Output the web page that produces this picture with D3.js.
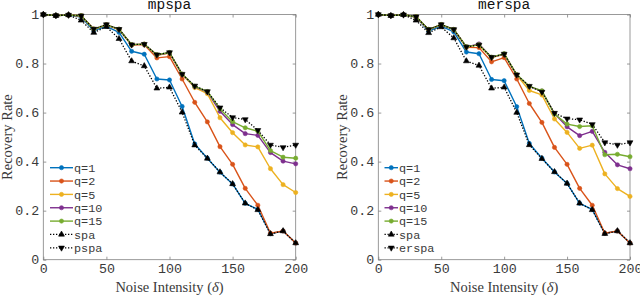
<!DOCTYPE html>
<html><head><meta charset="utf-8">
<script src="https://cdn.jsdelivr.net/npm/d3@7"></script>
<style>
html,body{margin:0;padding:0;background:#fff;}
svg{display:block;}
</style>
</head><body>
<svg id="chart" width="640" height="296"></svg>
<script>
// ---- data ----
const noise = [0,10,20,30,40,50,60,70,80,90,100,110,120,130,140,150,160,170,180,190,200];
const xTicks = [0,50,100,150,200];
const yTicks = [0,0.2,0.4,0.6,0.8,1];
const titles = ["mpspa","merspa"];
const legendLeft = ["q=1","q=2","q=5","q=10","q=15","spa","pspa"];
const legendRight = ["q=1","q=2","q=5","q=10","q=15","spa","erspa"];

// left panel (mpspa)
const q1L  = [1,0.996,0.998,0.990,0.934,0.952,0.927,0.850,0.838,0.737,0.733,0.625,0.472,0.414,0.357,0.309,0.230,0.205,0.106,0.117,0.068];
const q2L  = [1,0.996,0.998,0.994,0.940,0.957,0.938,0.875,0.877,0.823,0.828,0.737,0.642,0.562,0.461,0.389,0.291,0.222,0.108,0.117,0.068];
const q5L  = [1,0.996,0.998,0.995,0.940,0.958,0.940,0.877,0.879,0.834,0.843,0.755,0.702,0.677,0.579,0.518,0.468,0.460,0.371,0.306,0.274];
const q10L = [1,0.996,0.998,0.995,0.940,0.958,0.940,0.877,0.879,0.835,0.844,0.756,0.706,0.684,0.605,0.551,0.514,0.507,0.437,0.402,0.391];
const q15L = [1,0.996,0.998,0.995,0.940,0.958,0.940,0.877,0.879,0.836,0.845,0.757,0.707,0.686,0.615,0.563,0.538,0.524,0.445,0.418,0.414];
const spaL = [1,0.995,0.998,0.976,0.926,0.950,0.901,0.810,0.790,0.699,0.703,0.601,0.467,0.413,0.357,0.309,0.230,0.203,0.105,0.117,0.068];
const pspaL= [1,0.996,0.998,0.995,0.941,0.959,0.940,0.877,0.879,0.836,0.845,0.757,0.709,0.686,0.620,0.580,0.572,0.528,0.468,0.458,0.468];

// right panel (merspa)
const q1R  = [1,0.996,0.999,0.990,0.932,0.953,0.929,0.847,0.840,0.735,0.730,0.624,0.474,0.414,0.358,0.311,0.230,0.205,0.107,0.117,0.068];
const q2R  = [1,0.996,0.999,0.990,0.938,0.958,0.938,0.866,0.865,0.807,0.824,0.737,0.637,0.560,0.458,0.389,0.291,0.222,0.108,0.117,0.068];
const q5R  = [1,0.996,0.999,0.991,0.939,0.959,0.939,0.868,0.876,0.824,0.838,0.753,0.690,0.672,0.574,0.519,0.454,0.467,0.350,0.290,0.258];
const q10R = [1,0.996,0.999,0.991,0.939,0.959,0.939,0.868,0.880,0.825,0.839,0.754,0.706,0.688,0.596,0.542,0.506,0.523,0.438,0.387,0.371];
const q15R = [1,0.996,0.999,0.991,0.939,0.959,0.939,0.868,0.877,0.826,0.840,0.755,0.707,0.689,0.594,0.553,0.543,0.546,0.428,0.430,0.420];
const spaR = [1,0.995,0.999,0.976,0.925,0.949,0.904,0.810,0.792,0.699,0.703,0.600,0.468,0.412,0.358,0.311,0.230,0.203,0.106,0.117,0.068];
const erspaR=[1,0.996,0.999,0.991,0.939,0.959,0.939,0.868,0.876,0.826,0.839,0.754,0.708,0.684,0.598,0.575,0.571,0.552,0.478,0.468,0.478];

// ---- styles ----
const colors = ["#0072BD","#D95319","#EDB120","#7E2F8E","#77AC30","#000000","#000000"];
const mono = "'Liberation Mono','Courier New',monospace";
const serif = "'Liberation Serif','DejaVu Serif',serif";
const axisColor = "#808080";
const textColor = "#3a3a3a";

const svg = d3.select("#chart");

function drawPanel(cfg){
  const {x0,x1,y0,y1,title,series,labels,legX,legLen} = cfg;
  const x = d3.scaleLinear().domain([0,200]).range([x0,x1]);
  const y = d3.scaleLinear().domain([0,1]).range([y1,y0]);
  const g = svg.append("g");

  const fmtY = d => d===0?"0":(d===1?"1":d3.format(".1f")(d));
  const bottom = g.append("g").attr("transform",`translate(0,${y1})`)
    .call(d3.axisBottom(x).tickValues(xTicks).tickSizeInner(-3).tickSizeOuter(0).tickPadding(3));
  const top = g.append("g").attr("transform",`translate(0,${y0})`)
    .call(d3.axisTop(x).tickValues(xTicks).tickSizeInner(-3).tickSizeOuter(0).tickFormat(""));
  const left = g.append("g").attr("transform",`translate(${x0},0)`)
    .call(d3.axisLeft(y).tickValues(yTicks).tickSizeInner(-3).tickSizeOuter(0).tickPadding(4).tickFormat(fmtY));
  const right = g.append("g").attr("transform",`translate(${x1},0)`)
    .call(d3.axisRight(y).tickValues(yTicks).tickSizeInner(-3).tickSizeOuter(0).tickFormat(""));
  [bottom,top,left,right].forEach(a=>{
    a.select(".domain").remove();
    a.selectAll(".tick line").attr("stroke",axisColor).attr("stroke-width",0.8);
    a.selectAll("text").attr("font-family",mono).attr("font-size",13.3).attr("fill",textColor);
  });
  bottom.selectAll("text").attr("dy","0.75em");
  g.append("rect").attr("x",x0).attr("y",y0).attr("width",x1-x0).attr("height",y1-y0)
    .attr("fill","none").attr("stroke",axisColor).attr("stroke-width",0.8);

  // title
  g.append("text").attr("x",(x0+x1)/2).attr("y",y0-5.5).attr("text-anchor","middle")
    .attr("font-family",mono).attr("font-size",14.5).attr("fill","#111").text(title);
  // axis labels
  g.append("text").attr("x",(x0+x1)/2).attr("y",292).attr("text-anchor","middle")
    .attr("font-family",serif).attr("font-size",14.5).attr("fill",textColor)
    .html('Noise Intensity (<tspan font-style="italic">δ</tspan>)');
  g.append("text").attr("transform",`translate(${x0-31},${(y0+y1)/2}) rotate(-90)`)
    .attr("text-anchor","middle").attr("font-family",serif).attr("font-size",14.5).attr("fill",textColor)
    .text("Recovery Rate");

  // series
  const line = d3.line().x((d,i)=>x(noise[i])).y(d=>y(d));
  const triSym = d3.symbol().type(d3.symbolTriangle).size(15);
  const cirSym = d3.symbol().type(d3.symbolCircle).size(14);
  series.forEach((s,k)=>{
    const dotted = k>=5;
    const sg = g.append("g");
    sg.append("path").datum(s).attr("d",line).attr("fill","none")
      .attr("stroke",colors[k]).attr("stroke-width",dotted?1.3:1.4)
      .attr("stroke-dasharray",dotted?"1.3,1.7":null).attr("stroke-linejoin","round");
    const sym = k>=5 ? triSym : cirSym;
    sg.selectAll("path.m").data(s).enter().append("path").attr("class","m")
      .attr("d",sym())
      .attr("transform",(d,i)=>`translate(${x(noise[i])},${y(d)})${k===6?" rotate(180)":""}`)
      .attr("fill",colors[k]).attr("stroke",colors[k]).attr("stroke-width",0.6);
  });

  // legend
  labels.forEach((lab,k)=>{
    const ly = 167.7 + k*13.35;
    const dotted = k>=5;
    g.append("line").attr("x1",legX).attr("x2",legX+legLen).attr("y1",ly).attr("y2",ly)
      .attr("stroke",colors[k]).attr("stroke-width",dotted?1.3:1.4)
      .attr("stroke-dasharray",dotted?"1.3,1.7":null);
    const sym = k>=5 ? triSym : cirSym;
    g.append("path").attr("d",sym()).attr("transform",`translate(${legX+legLen/2},${ly})${k===6?" rotate(180)":""}`)
      .attr("fill",colors[k]).attr("stroke",colors[k]).attr("stroke-width",0.6);
    g.append("text").attr("x",legX+legLen+1).attr("y",ly).attr("dy","0.35em")
      .attr("font-family",mono).attr("font-size",11.8).attr("fill",textColor).text(lab);
  });
}

drawPanel({x0:43.3,x1:295.7,y0:14.5,y1:259.7,title:titles[0],
  series:[q1L,q2L,q5L,q10L,q15L,spaL,pspaL],labels:legendLeft,legX:50,legLen:23});
drawPanel({x0:378.3,x1:630,y0:14.5,y1:259.7,title:titles[1],
  series:[q1R,q2R,q5R,q10R,q15R,spaR,erspaR],labels:legendRight,legX:384.5,legLen:13.5});
</script>
</body></html>
